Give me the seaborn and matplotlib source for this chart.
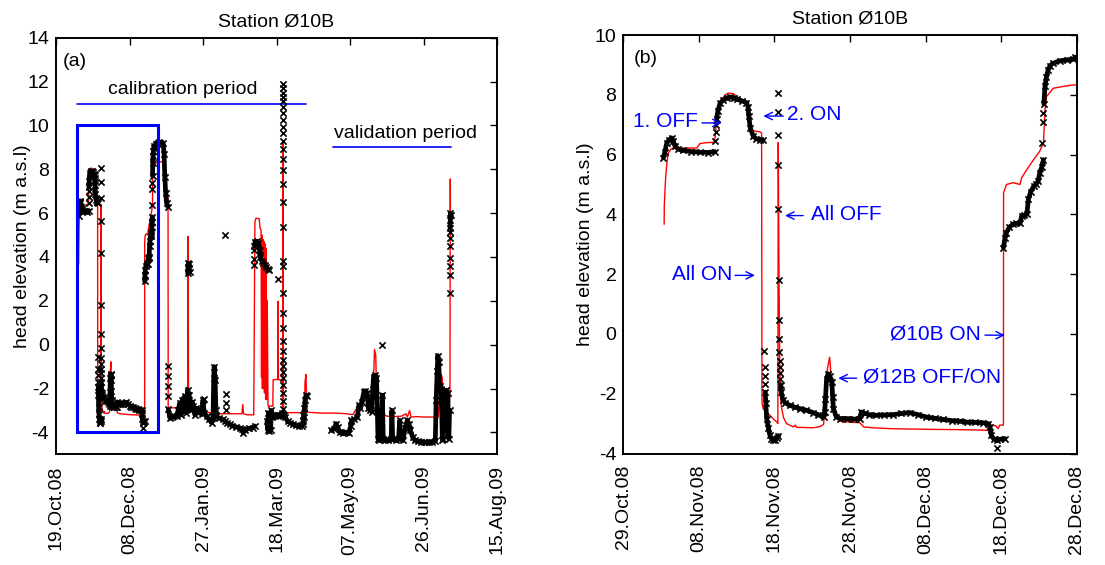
import matplotlib
matplotlib.use("Agg")
import matplotlib.pyplot as plt
import seaborn as sns
import pandas as pd
from matplotlib.patches import Rectangle

# ---------------- data (x = days since 19.Oct.08, y = head elevation m a.s.l) -------------
left_tick_days = [0, 50, 100, 150, 200, 250, 300]
left_tick_labels = ["19.Oct.08", "08.Dec.08", "27.Jan.09", "18.Mar.09",
                    "07.May.09", "26.Jun.09", "15.Aug.09"]
right_tick_days = [10, 20, 30, 40, 50, 60, 70]
right_tick_labels = ["29.Oct.08", "08.Nov.08", "18.Nov.08", "28.Nov.08",
                     "08.Dec.08", "18.Dec.08", "28.Dec.08"]

# observed head, densely logged stretches
obs_seg1 = [(15.3, 5.89), (15.5, 6.1), (15.75, 6.39), (16.1, 6.5), (16.4, 6.56), (16.6, 6.45),
            (16.85, 6.28), (17.3, 6.18), (17.95, 6.14), (19.0, 6.1), (20.2, 6.08), (21.2, 6.07),
            (22.1, 6.1)]
obs_seg2 = [(22.35, 7.2), (22.5, 7.45), (22.8, 7.72), (23.2, 7.82), (23.7, 7.89), (24.1, 7.93),
            (24.6, 7.9), (25.0, 7.86), (25.7, 7.8), (26.3, 7.74), (26.5, 7.6), (26.6, 7.3),
            (26.8, 6.89), (27.2, 6.61), (27.6, 6.53), (28.1, 6.5), (28.5, 6.48)]
obs_seg3 = [(28.78, -1.95), (28.85, -2.3), (28.97, -2.83), (29.2, -3.15), (29.4, -3.39),
            (29.6, -3.5), (29.85, -3.56), (30.1, -3.55), (30.4, -3.47), (30.5, -3.4)]
obs_seg4 = [(30.8, -1.7), (30.9, -1.95), (31.1, -2.2), (31.4, -2.3), (32.05, -2.39), (32.7, -2.45),
            (33.4, -2.5), (34.2, -2.55), (35.1, -2.63), (35.8, -2.7), (36.5, -2.78), (36.65, -2.6),
            (36.75, -2.17), (36.9, -1.5), (37.1, -1.33), (37.3, -1.4), (37.6, -1.61), (37.7, -2.1),
            (37.8, -2.5), (38.2, -2.78), (38.7, -2.83), (39.55, -2.83), (40.5, -2.85), (41.3, -2.83),
            (41.5, -2.61), (42.0, -2.66), (42.5, -2.7), (43.5, -2.72), (44.5, -2.71), (45.7, -2.7),
            (46.8, -2.66), (47.9, -2.63), (49.0, -2.7), (50.1, -2.78), (51.2, -2.82), (52.35, -2.86),
            (53.5, -2.9), (54.55, -2.92), (55.5, -2.95), (56.6, -2.96), (57.6, -2.97), (58.3, -3.0),
            (58.5, -3.1), (58.7, -3.39), (59.0, -3.5), (59.4, -3.56), (59.9, -3.52), (60.5, -3.5)]
obs_seg5 = [(60.3, 2.89), (60.5, 3.2), (60.7, 3.39), (61.1, 3.58), (61.6, 3.67), (62.0, 3.7),
            (62.5, 3.7), (62.7, 3.94), (63.0, 3.97), (63.4, 4.0), (63.6, 4.5), (63.9, 4.75),
            (64.3, 4.94), (64.6, 5.0), (64.9, 5.11), (65.1, 5.39), (65.4, 5.6), (65.6, 5.83)]
obs_seg6 = [(65.65, 7.7), (65.8, 8.28), (66.0, 8.6), (66.2, 8.83), (66.5, 8.98), (66.9, 9.06),
            (67.8, 9.14), (68.7, 9.17), (69.55, 9.19), (69.8, 9.26), (71.0, 9.22), (72.9, 9.19),
            (73.5, 8.7), (74.0, 7.67), (74.6, 6.9), (75.2, 6.46), (76.0, 6.3)]
obs_seg7 = [(76.4, -2.95), (77.4, -3.33), (79, -3.3), (80.5, -3.25), (82, -3.26), (83, -3.0),
            (84.2, -2.65), (85, -3.2), (86, -2.5), (87.6, -2.35), (88.5, -3.1), (89.5, -2.05),
            (90.5, -2.3), (91.5, -3.0), (92.5, -2.6), (93.3, -2.8), (94.5, -3.2), (95.5, -2.9),
            (96.5, -3.1), (97.8, -2.95), (99, -3.15), (100, -2.5), (100.8, -3.1), (102.4, -3.26),
            (104, -3.4), (105.8, -3.56), (106.8, -3.3), (107.3, -1.5), (107.6, -1.0), (108.2, -1.6),
            (108.8, -3.0), (109.1, -3.26), (111, -3.35), (113.7, -3.41), (115, -3.5), (116, -3.55),
            (118.2, -3.64), (120, -3.7), (122.5, -3.75), (125, -3.79), (126.5, -3.85),
            (127.3, -4.02), (128.5, -3.9), (131, -3.82), (134, -3.79), (135.2, -3.71)]
obs_seg8 = [(89.6, 3.25), (89.8, 3.55), (90.0, 3.72), (90.3, 3.7), (90.6, 3.5), (90.8, 3.3)]
obs_seg9 = [(135.0, 4.5), (135.4, 4.7), (136.5, 4.72), (137.7, 4.65), (138.5, 4.3), (139, 4.0),
            (140, 3.8), (141, 3.72), (142, 3.65), (143, 3.55), (144.2, 3.45), (145, 3.4)]
obs_seg10 = [(143.5, -3.5), (144, -3.9), (144.5, -3.1), (145, -3.95), (145.5, -3.2), (146, -3.9),
             (146.5, -3.0), (147, -3.3), (148, -3.2), (149, -3.25), (150, -3.2), (151, -3.25),
             (152, -3.2), (153, -3.22), (153.8, -3.1)]
obs_seg11 = [(155, -3.2), (156, -3.3), (157.5, -3.5), (159, -3.55), (161, -3.62), (163, -3.68),
             (165, -3.7), (167, -3.72), (168, -3.6), (168.6, -3.3), (169.0, -2.9), (169.5, -2.5),
             (170.0, -2.3), (170.5, -2.35)]
obs_seg12 = [(187.3, -3.9), (189, -3.85), (190.5, -3.6), (191.5, -3.75), (193, -4.0), (195, -4.05),
             (197, -4.0), (199, -4.05), (200.5, -3.7), (201, -3.45), (203, -3.4), (205, -3.3),
             (206, -2.76), (207, -2.9), (208, -2.6), (209.5, -2.15), (210.5, -2.1), (211.6, -2.2),
             (212.5, -2.9), (213.5, -3.0), (214.8, -3.06), (215.5, -2.0), (216, -1.46), (217, -1.4),
             (218, -1.5), (218.6, -3.0), (219, -4.3), (220, -4.35), (221.5, -4.3), (222, -2.3),
             (222.6, -4.3), (224, -4.35), (226, -4.35), (228, -4.3), (228.5, -3.0), (229, -4.3),
             (231, -4.35), (233, -4.3), (233.8, -3.45), (234.3, -4.3), (236, -4.35), (237.5, -3.8),
             (239, -3.45), (240, -3.6), (241, -3.9), (242.5, -4.2), (244, -4.35), (246, -4.4),
             (248, -4.45), (250, -4.45), (252, -4.45), (254, -4.45), (256, -4.43), (258, -4.4),
             (258.6, -2.5), (259.3, -1.2), (259.7, -0.5), (260.3, -0.8), (261, -1.9), (262, -2.0),
             (262.8, -4.35), (263.5, -4.3), (264.3, -2.3), (265.5, -2.07), (266.5, -2.2),
             (267.2, -4.3), (267.7, -3.0)]
obs_seg13 = [(268.1, 5.3), (268.2, 5.7), (268.3, 6.0), (268.4, 5.9)]

# observed head, isolated readings during fast transitions
obs_sparse = [(22.15, 6.45), (22.2, 6.75), (22.25, 7.0),
              (28.65, -0.57), (28.7, -1.12), (28.72, -1.4), (28.75, -1.68),
              (30.5, 8.05), (30.5, 7.42), (30.5, 6.67), (30.48, 5.64), (30.45, 4.17), (30.6, 1.81),
              (30.6, 0.48), (30.6, -0.17), (30.65, -0.6), (30.68, -0.9), (30.7, -1.1),
              (30.72, -1.3), (30.75, -1.5),
              (59.4, -3.82),
              (65.45, 6.39), (65.55, 7.1), (65.6, 7.39),
              (76.3, -0.95), (76.3, -1.44), (76.3, -1.89), (76.3, -2.35),
              (101, -2.46), (115.4, -2.24), (115.4, -2.65), (115.4, -3.0), (115.0, 5.0),
              (135.0, 3.62), (135.0, 3.93), (135.0, 4.3), (151, 3.0),
              (154.3, 11.9), (154.3, 11.7), (154.3, 11.5), (154.3, 11.3), (154.3, 11.1),
              (154.3, 10.86), (154.3, 10.55), (154.3, 10.25), (154.3, 9.95), (154.3, 9.64),
              (154.3, 9.3), (154.3, 8.93), (154.3, 8.47), (154.3, 7.97), (154.3, 7.34),
              (154.3, 6.5), (154.3, 5.36), (154.6, 3.8), (154.6, 3.57), (154.6, 2.36),
              (154.6, 1.45), (154.6, 0.74), (154.6, 0.19), (154.6, -0.3), (154.6, -0.68),
              (154.6, -0.98), (154.6, -1.25), (154.6, -1.54), (154.6, -1.82), (154.6, -2.2),
              (154.6, -2.57), (154.6, -2.95),
              (167.8, -3.5), (168.2, -3.2), (222, -0.02),
              (268, 2.37), (268, 3.19), (268, 3.6), (268, 3.95), (268, 4.5), (268, 4.86), (268, 5.16)]

# modelled head
model = [(15.4, 3.67), (15.42, 4.28), (15.55, 5.0), (15.65, 5.39), (15.8, 5.8), (15.95, 6.06),
         (16.3, 6.18), (16.6, 6.22), (18, 6.22), (19.7, 6.22), (20.15, 6.37), (21, 6.4),
         (21.9, 6.41), (22.1, 6.45), (22.3, 7.0), (22.6, 7.5), (23.0, 7.85), (23.5, 8.0),
         (23.9, 8.06), (24.6, 8.03), (25.5, 7.85), (26.3, 7.63), (26.7, 7.2), (27.0, 6.83),
         (27.5, 6.78), (28.1, 6.76), (28.3, 6.72), (28.35, -2.3), (28.5, -2.5), (29.4, -2.72),
         (30.0, -2.88), (30.3, -2.94), (30.45, -3.0), (30.5, 6.4), (30.6, 2.0), (30.7, -1.2),
         (30.9, -2.4), (31.2, -2.8), (31.6, -3.0), (32.5, -3.11), (32.8, -3.05), (32.9, -3.12),
         (34, -3.13), (35.1, -3.14), (36.0, -3.1), (36.5, -3.03), (36.8, -2.0), (37.0, -1.17),
         (37.3, -0.78), (37.6, -1.72), (37.9, -2.72), (38.7, -2.92), (40, -2.95), (41.3, -2.97),
         (41.8, -3.11), (43, -3.14), (45.7, -3.17), (48, -3.18), (50.1, -3.19), (54, -3.2),
         (58.1, -3.22), (58.5, -3.05), (59.3, -3.07), (59.6, -3.17), (59.8, -3.05), (60.3, -3.05),
         (60.32, 4.72), (60.7, 5.0), (61.6, 5.06), (62.5, 5.0), (62.7, 5.22), (63.4, 5.5),
         (64.3, 5.83), (65.1, 6.11), (65.6, 6.39), (65.8, 7.5), (66.0, 7.94), (66.9, 8.22),
         (68.7, 8.3), (69.55, 8.33), (72.9, 8.35), (73.5, 7.5), (74.0, 6.76), (75.0, 6.76),
         (76.2, 6.7), (76.3, -2.8), (77, -2.88), (85, -2.88), (89.5, -2.9), (89.8, 4.94),
         (90.1, -1.66), (90.4, -2.95), (92, -3.05), (100, -3.05), (105, -3.1), (106.8, -3.1),
         (107.3, -1.9), (107.6, -3.0), (110, -3.15), (120, -3.15), (126.5, -3.15), (127, -2.73),
         (127.6, -3.15), (130, -3.2), (134.5, -3.2), (135.0, 2.0), (135.3, 5.6), (136, 5.77),
         (138.2, 5.75), (138.8, 5.3), (139.5, 5.24), (139.8, -1.5), (140.1, 5.0), (140.4, -2.0),
         (140.8, 4.8), (141.1, -2.0), (141.5, 4.7), (141.8, -2.2), (142.2, 4.6), (142.6, -2.5),
         (143, 4.4), (143.3, -2.5), (143.7, 2.0), (144.2, -2.8), (145, -2.8), (147.5, -2.8),
         (147.7, -1.6), (149.5, -1.59), (150.8, -1.59), (151, 1.98), (151.3, -1.6), (154.0, -1.6),
         (154.2, -3.0), (154.4, 9.2), (154.7, -3.0), (156, -3.1), (165, -3.1), (169, -3.1),
         (169.4, -1.7), (170, -1.36), (170.5, -2.5), (171, -3.08), (180, -3.12), (190, -3.12),
         (198, -3.15), (200, -3.18), (202, -3.18), (204, -2.95), (206, -2.9), (207, -2.7),
         (209, -2.65), (211, -2.45), (213, -2.42), (215, -2.5), (216.3, -1.0), (216.7, -0.22),
         (217.5, -0.5), (218, -2.0), (218.5, -2.95), (220, -3.05), (225, -3.26), (230, -3.28),
         (235, -3.26), (238, -3.15), (239, -3.3), (240.5, -3.0), (241.5, -3.3), (245, -3.28),
         (250, -3.3), (255, -3.3), (260, -3.3), (261, -2.0), (262, -1.36), (262.7, -1.5),
         (263.5, -2.8), (265, -2.8), (266, -2.4), (267.5, -2.8), (268, -2.0), (268.2, 7.56),
         (268.3, 6.0)]

# annotation periods
calib_start, calib_end, calib_level = 14.5, 170.0, 11.0
valid_start, valid_end, valid_level = 188.3, 268.8, 9.0
box_day0, box_day1, box_low, box_high = 14.5, 69.3, -4.0, 10.0

# event labels: text, text-left day, text level, arrow tail day, arrow tip day
event_labels = ["1. OFF", "2. ON", "All OFF", "All ON", "Ø10B ON", "Ø12B OFF/ON"]
event_text_day = [11.24, 31.6, 34.8, 16.4, 45.29, 41.76]
event_level = [7.1, 7.33, 4.0, 2.0, 0.0, -1.44]
event_tail_day = [20.41, 31.17, 33.8, 24.78, 57.86, 40.88]
event_tip_day = [23.02, 28.53, 31.4, 27.43, 60.5, 38.45]

# ---------------- build frames -----------------
obs_segments = [obs_seg1, obs_seg2, obs_seg3, obs_seg4, obs_seg5, obs_seg6, obs_seg7, obs_seg8,
                obs_seg9, obs_seg10, obs_seg11, obs_seg12, obs_seg13]
rows = []
for i, seg in enumerate(obs_segments):
    for d, v in seg:
        rows.append({"day": d, "head": v, "seg": i})
obs_df = pd.DataFrame(rows)
pts_df = pd.concat([obs_df[["day", "head"]],
                    pd.DataFrame(obs_sparse, columns=["day", "head"])], ignore_index=True)
model_df = pd.DataFrame(model, columns=["day", "head"])

# ---------------- style -----------------
sns.set_theme(style="white", rc={"axes.edgecolor": "black", "xtick.color": "black",
                                 "ytick.color": "black", "text.color": "black",
                                 "axes.labelcolor": "black"})
plt.rcParams["font.family"] = ["Liberation Sans", "DejaVu Sans"]
plt.rcParams["axes.unicode_minus"] = False

FS = 14
FS_EV = 15
BLUE = "#0000ff"

fig = plt.figure(figsize=(11.05, 5.65), dpi=100)
axL = fig.add_axes([0.0507, 0.1959, 0.3991, 0.7373])
axR = fig.add_axes([0.5641, 0.1973, 0.4103, 0.7407])


def draw_series(ax):
    sns.lineplot(data=model_df, x="day", y="head", sort=False, estimator=None,
                 color="#ff0000", linewidth=1.0, ax=ax, zorder=2)
    sns.lineplot(data=obs_df, x="day", y="head", units="seg", sort=False, estimator=None,
                 color="black", linewidth=3.4, ax=ax, zorder=3)
    sns.scatterplot(data=pts_df, x="day", y="head", marker="x", color="black", s=20,
                    linewidth=1.2, ax=ax, zorder=4)


def style_axes(ax, ticks, labels, xlim, ylim, yticks):
    ax.set_xlim(*xlim)
    ax.set_ylim(*ylim)
    ax.set_xticks(ticks)
    ax.set_xticklabels(labels, rotation=90, ha="center", va="top")
    ax.set_yticks(yticks)
    ax.tick_params(direction="in", length=5, width=1, top=True, right=True,
                   labelsize=FS, colors="black")
    ax.tick_params(axis="x", pad=8)
    ax.tick_params(axis="y", pad=5)
    ax.set_xlabel("")
    ax.set_ylabel("head elevation (m a.s.l)", fontsize=FS)
    for s in ax.spines.values():
        s.set_visible(True)
        s.set_color("black")
        s.set_linewidth(1.4)
    ax.set_title("Station Ø10B", fontsize=FS, pad=8)


# left panel
draw_series(axL)
style_axes(axL, left_tick_days, left_tick_labels, (0, 300), (-5, 14), list(range(-4, 15, 2)))
axL.add_patch(Rectangle((box_day0, box_low), box_day1 - box_day0, box_high - box_low,
                        fill=False, edgecolor=BLUE, linewidth=2.2, zorder=5))
axL.plot([calib_start, calib_end], [calib_level, calib_level], color=BLUE, lw=1.2)
axL.plot([valid_start, valid_end], [valid_level, valid_level], color=BLUE, lw=1.2)
axL.text(86, 11.65, "calibration period", fontsize=FS, ha="center", va="center")
axL.text(237.5, 9.65, "validation period", fontsize=FS, ha="center", va="center")
axL.text(0.016, 0.942, "(a)", transform=axL.transAxes, fontsize=FS, ha="left", va="center")
axL.yaxis.set_label_coords(-0.057, 0.5)

# right panel
draw_series(axR)
style_axes(axR, right_tick_days, right_tick_labels, (10, 70), (-4, 10), list(range(-4, 11, 2)))
axR.text(0.022, 0.945, "(b)", transform=axR.transAxes, fontsize=FS, ha="left", va="center")
for lab, tx, lv, tail, tip in zip(event_labels, event_text_day, event_level,
                                  event_tail_day, event_tip_day):
    axR.text(tx, lv, lab, color=BLUE, fontsize=FS_EV, ha="left", va="center", zorder=6)
    axR.annotate("", xy=(tip, lv - 0.04), xytext=(tail, lv - 0.04),
                 arrowprops=dict(arrowstyle="->,head_length=0.45,head_width=0.22",
                                 color=BLUE, lw=1.0, shrinkA=0, shrinkB=0), zorder=6)
axR.yaxis.set_label_coords(-0.065, 0.5)

fig.savefig("out.png", dpi=100)
